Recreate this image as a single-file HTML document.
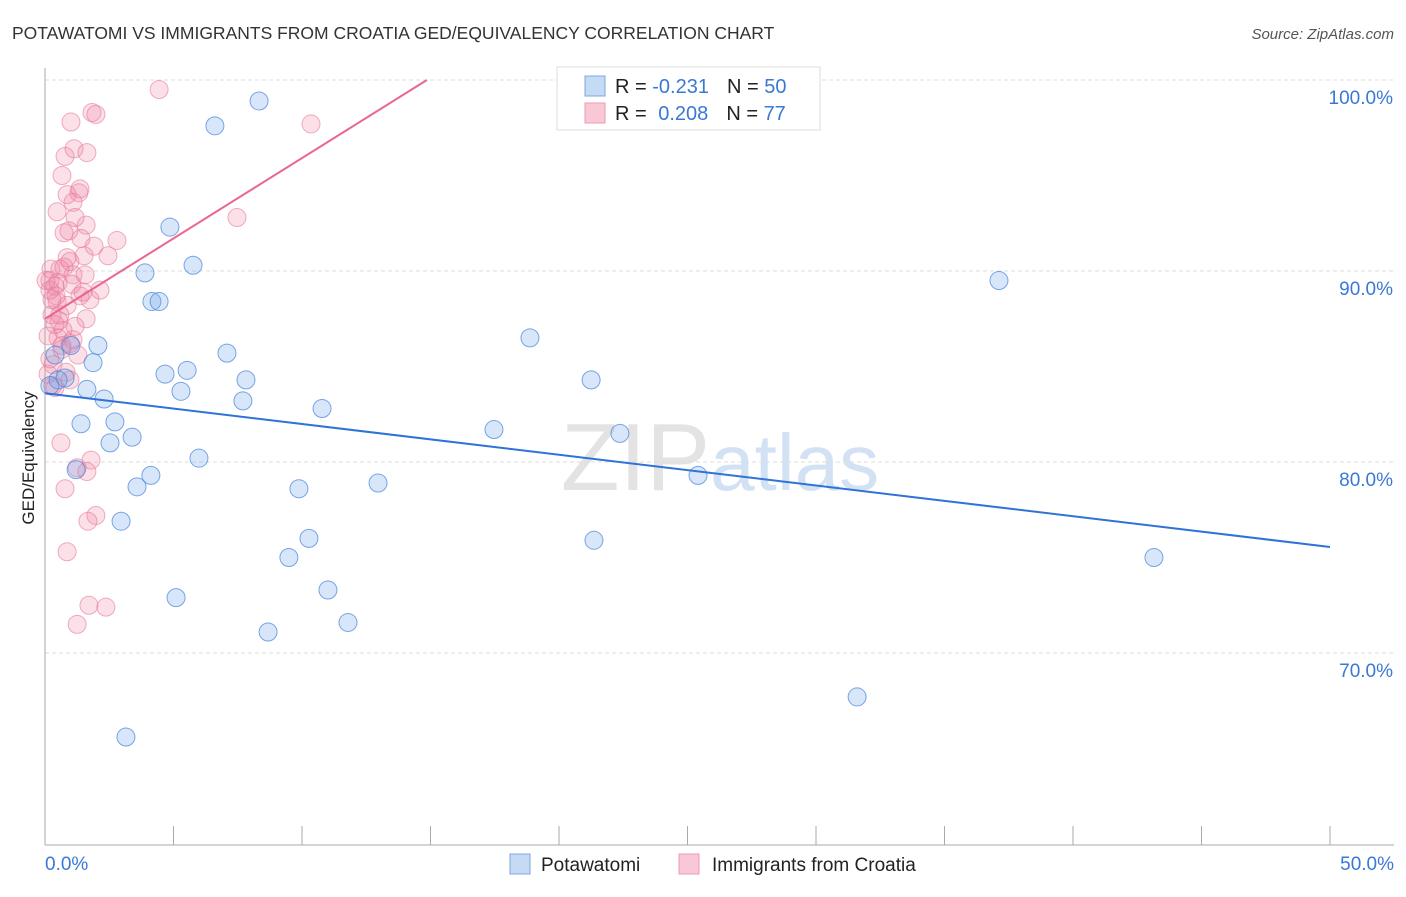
<!DOCTYPE html>
<html><head><meta charset="utf-8"><style>
body{margin:0;background:#fff;font-family:"Liberation Sans",sans-serif;}
svg text{font-family:"Liberation Sans",sans-serif;}
</style></head><body>
<svg id="chart" width="1406" height="892" xmlns="http://www.w3.org/2000/svg">
<text x="12" y="39" font-size="17.5" fill="#333">POTAWATOMI VS IMMIGRANTS FROM CROATIA GED/EQUIVALENCY CORRELATION CHART</text>
<text x="1394" y="39" font-size="15" fill="#555" font-style="italic" text-anchor="end">Source: ZipAtlas.com</text>
<text x="720" y="490" font-size="96" text-anchor="middle" fill="#ddd" font-family="Liberation Serif" opacity="0.8">ZIP<tspan fill="#c8dcf2" font-family="Liberation Sans" font-size="80">atlas</tspan></text>
<text transform="translate(34,458) rotate(-90)" font-size="17" fill="#222" text-anchor="middle">GED/Equivalency</text>
<g id="grid"></g><g id="axes"></g><g id="pts"></g><g id="trends"></g>
<g>
<rect x="557" y="67" width="263" height="63" fill="#fff" stroke="#ddd"/>
<rect x="585" y="76" width="20" height="20" fill="#c5daf5" stroke="#7aa8e4"/>
<rect x="585" y="103" width="20" height="20" fill="#f9c8d6" stroke="#eb9ab2"/>
<text x="615" y="93" font-size="20" fill="#222">R = <tspan fill="#3a78d6">-0.231</tspan><tspan dx="18">N = </tspan><tspan fill="#3a78d6">50</tspan></text>
<text x="615" y="120" font-size="20" fill="#222">R = <tspan fill="#3a78d6" dx="6">0.208</tspan><tspan dx="18">N = </tspan><tspan fill="#3a78d6">77</tspan></text>
</g>
<g>
<rect x="510" y="854" width="20" height="20" fill="#c5daf5" stroke="#7aa8e4"/>
<text x="541" y="871" font-size="19" fill="#222">Potawatomi</text>
<rect x="679" y="854" width="20" height="20" fill="#f9c8d6" stroke="#eb9ab2"/>
<text x="712" y="871" font-size="19" fill="#222">Immigrants from Croatia</text>
</g>
</svg>
<script>
const blueX=[8.33,6.61,4.86,5.76,3.89,4.16,4.44,37.12,18.87,2.06,1.01,1.87,7.08,5.53,4.67,7.82,21.25,0.78,1.63,5.29,2.30,7.70,10.78,1.40,2.72,3.39,2.53,17.47,22.37,5.99,1.21,4.12,3.58,9.88,12.96,25.41,2.96,21.36,10.27,9.49,43.15,11.01,5.10,11.79,8.68,31.60,3.15,0.51,0.19,0.39];
const blueY=[98.9,97.6,92.3,90.3,89.9,88.4,88.4,89.5,86.5,86.1,86.1,85.2,85.7,84.8,84.6,84.3,84.3,84.4,83.8,83.7,83.3,83.2,82.8,82.0,82.1,81.3,81.0,81.7,81.5,80.2,79.6,79.3,78.7,78.6,78.9,79.3,76.9,75.9,76.0,75.0,75.0,73.3,72.9,71.6,71.1,67.7,65.6,84.3,84.0,85.6];
const pinkX=[4.44,10.35,1.83,1.98,1.01,1.13,1.63,0.78,0.66,1.36,0.86,1.32,0.47,1.09,1.17,1.60,7.47,0.74,0.93,1.40,2.80,1.91,2.45,0.86,1.52,0.23,0.58,1.09,1.56,0.19,0.39,1.05,1.36,1.48,0.47,0.86,0.27,0.54,1.60,1.17,0.70,0.51,0.97,1.09,0.66,0.19,0.31,0.12,0.97,0.39,0.62,1.79,1.25,1.63,0.78,1.98,1.67,0.86,1.71,2.37,1.25,0.19,0.43,0.58,0.12,0.66,1.28,0.82,0.27,0.04,0.51,0.74,0.97,1.75,2.14,0.39,0.30];
const pinkY=[99.5,97.7,98.3,98.2,97.8,96.4,96.2,96.0,95.0,94.3,94.0,94.1,93.1,93.6,92.8,92.4,92.8,92.0,92.1,91.7,91.6,91.3,90.8,90.7,90.8,90.1,90.1,89.8,89.8,89.5,89.2,89.3,88.7,88.9,88.4,88.2,87.7,87.4,87.5,87.1,86.9,86.5,86.2,86.4,86.1,85.4,85.1,84.6,84.3,83.9,81.0,80.1,79.7,79.5,78.6,77.2,76.9,75.3,72.5,72.4,71.5,89.0,88.7,87.7,86.6,85.9,85.6,84.7,88.5,89.5,89.4,90.2,90.5,88.5,89.0,87.2,84.0];
const blueTrend=[83.6,75.55]; // at x=0 and x=50
const pinkTrend=[87.5,100]; const pinkTrendEndX=14.86;
const yTicks=[100,90,80,70];
const yTickLabels=["100.0%","90.0%","80.0%","70.0%"];
const xTicks=[0,5,10,15,20,25,30,35,40,45,50];
const xs=v=>45+v*25.7, ys=v=>80+(100-v)*19.1;
const NS="http://www.w3.org/2000/svg";
function mk(p,t,a){const e=document.createElementNS(NS,t);for(const k in a)e.setAttribute(k,a[k]);p.appendChild(e);return e;}
const grid=document.getElementById('grid'),axes=document.getElementById('axes'),pts=document.getElementById('pts'),tr=document.getElementById('trends');
yTicks.forEach((t,i)=>{const l=mk(grid,'line',{x1:45,x2:1394,y1:ys(t),y2:ys(t),stroke:'#ddd','stroke-dasharray':'4,3'});


const tx=mk(grid,'text',{x:1393,y:ys(t)+24,'font-size':19,fill:'#3a78d6','text-anchor':'end'});tx.textContent=yTickLabels[i];

});
const ax=mk(axes,'line',{x1:45,x2:45,y1:68,y2:845,stroke:'#aaa'});


const bx=mk(axes,'line',{x1:45,x2:1394,y1:845,y2:845,stroke:'#aaa'});


xTicks.forEach(t=>{const l=mk(axes,'line',{x1:xs(t),x2:xs(t),y1:826,y2:845,stroke:'#aaa'});

});
const x0=mk(axes,'text',{x:45,y:870,'font-size':19,fill:'#3a78d6'});x0.textContent='0.0%';


const x1=mk(axes,'text',{x:1394,y:870,'font-size':19,fill:'#3a78d6','text-anchor':'end'});x1.textContent='50.0%';


pinkX.forEach((v,i)=>{const c=mk(pts,'circle',{cx:xs(v),cy:ys(pinkY[i]),r:9,fill:'rgba(240,130,165,0.25)',stroke:'rgba(230,120,155,0.6)'});

});
blueX.forEach((v,i)=>{const c=mk(pts,'circle',{cx:xs(v),cy:ys(blueY[i]),r:9,fill:'rgba(110,165,235,0.28)',stroke:'rgba(70,130,220,0.7)'});

});
const bl=mk(tr,'line',{x1:xs(0),y1:ys(blueTrend[0]),x2:xs(50),y2:ys(blueTrend[1]),stroke:'#2f73d6','stroke-width':2});


const pl=mk(tr,'line',{x1:xs(0),y1:ys(pinkTrend[0]),x2:xs(pinkTrendEndX),y2:ys(pinkTrend[1]),stroke:'#e86690','stroke-width':2});


</script>
</body></html>
